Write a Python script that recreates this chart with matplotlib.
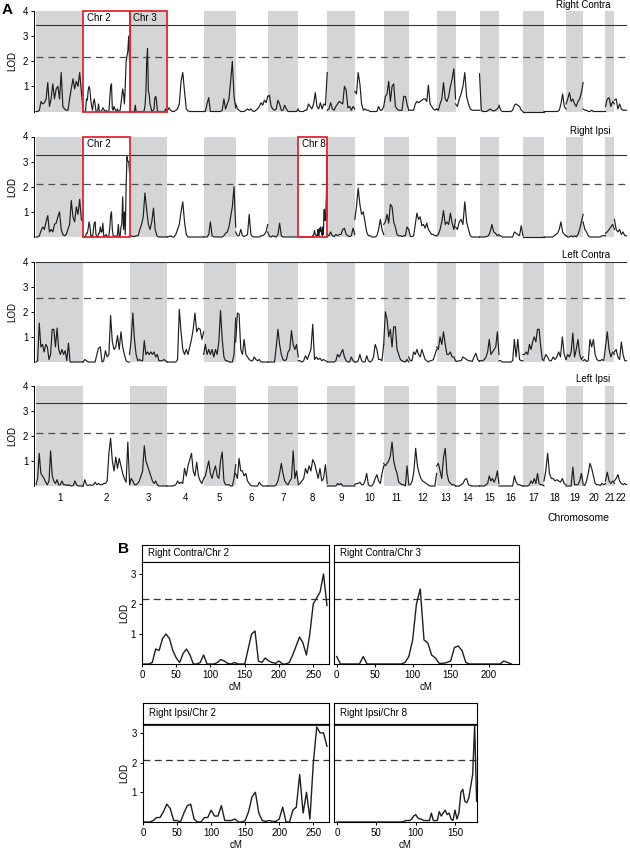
import numpy as np
import matplotlib.pyplot as plt
from matplotlib.patches import Rectangle

plt.rcParams['font.family'] = ['Liberation Sans', 'DejaVu Sans']

W, H = 630, 852
GRAY = '#d4d5d7'
RED = '#e3262d'
TRACE = '#1e1e1e'

chrom_names = [str(i) for i in range(1, 23)]
# band widths (cM) of the 22 chromosomes in the genome scan
chrom_len = [273, 270, 218, 212, 186, 186, 177, 168, 160, 168, 145,
             162, 110, 139, 113, 139, 122, 128, 99, 130, 52, 70]

# detailed scans used in panel B (LOD every 5 cM, chr 8 every 2.5 cM)
rc_chr2 = [0, 0, 0, 0.05, 0.5, 0.45, 0.85, 1.0, 0.85, 0.45,
           0.2, 0.05, 0.35, 0.5, 0.3, 0, 0, 0.05, 0.3, 0,
           0, 0, 0.05, 0.15, 0.1, 0.02, 0, 0.05, 0, 0,
           0, 0.5, 1.0, 1.1, 0.1, 0.05, 0.2, 0.1, 0.05, 0.02,
           0.1, 0, 0, 0.05, 0.3, 0.6, 0.9, 0.7, 0.3, 1.0,
           2.0, 2.2, 2.4, 3.0, 1.95]
rc_chr3 = [0.25, 0, 0, 0, 0, 0, 0, 0.25, 0, 0,
           0, 0, 0, 0, 0, 0, 0, 0, 0.05, 0.25,
           0.8, 2.0, 2.5, 0.8, 0.7, 0.3, 0.2, 0.02, 0.02, 0.05,
           0.1, 0.55, 0.6, 0.45, 0.05, 0, 0, 0, 0, 0,
           0, 0, 0, 0, 0.1, 0.05, 0]
ri_chr2 = [0, 0, 0, 0.05, 0.15, 0.15, 0.35, 0.6, 0.45, 0.05,
           0.05, 0, 0.3, 0.55, 0.6, 0.1, 0, 0, 0.15, 0.15,
           0.4, 0.2, 0.2, 0.55, 0.05, 0.05, 0.05, 0.1, 0, 0,
           0.05, 0.35, 0.85, 1.0, 0.3, 0.05, 0.02, 0.05, 0.02, 0.02,
           0.1, 0.5, 0, 0, 0.4, 0.5, 1.6, 0.3, 1.0, 0.1,
           2.0, 3.2, 3.0, 3.0, 2.55]
ri_chr8 = [0] * 34 + [0.02, 0.05, 0.05, 0.05, 0.1, 0.2, 0.25, 0.15, 0.1, 0.1,
                      0.05, 0.05, 0.05, 0.05, 0.3, 0.05, 0.05, 0.05, 0.35, 0.2,
                      0.3, 0.4, 0.25, 0.3, 0.1, 0.05, 0.4, 0.1, 0.3, 1.0,
                      1.1, 0.7, 0.65, 0.8, 1.2, 1.6, 3.25, 0.7]

right_contra = [
    [0, 0, 0.05, 0.4, 0.3, 0.35, 0.5, 1.15, 0.2, 0.5, 1.1, 0.5, 0.9, 1.0, 0.5, 1.55, 0.2, 0.1, 0.05, 0.05, 0.5, 0.9, 1.3, 0.9, 1.2, 1.0, 1.55, 0.8, 0.1],
    rc_chr2,
    rc_chr3,
    [0, 0.15, 0.05, 0, 0, 0.05, 0.1, 0.3, 1.2, 1.55, 0.8, 0.1, 0.02, 0, 0, 0, 0, 0, 0, 0, 0, 0],
    [0, 0, 0.3, 0.55, 0, 0, 0, 0, 0, 0, 0, 0.05, 0.5, 0.1, 0.3, 0.5, 1.2, 2.0, 0.6, 0.15],
    [0.3, 0.1, 0.05, 0, 0, 0, 0.05, 0.1, 0.05, 0.1, 0.02, 0, 0.05, 0.1, 0.2, 0.35, 0.25, 0.45, 0.35, 0.6],
    [0.6, 0.65, 0.2, 0.1, 0.05, 0.1, 0.45, 0.3, 0.05, 0.05, 0.25, 0.1, 0, 0, 0, 0, 0, 0, 0.1],
    [0.05, 0, 0, 0, 0.05, 0.05, 0.3, 0.2, 0.1, 0.3, 0.75, 0.2, 0.1, 0.35, 0.1, 0.3, 0.25, 1.55],
    [0.05, 0.1, 0.35, 0.1, 0.05, 0.2, 0.3, 0.4, 0.35, 0.3, 1.0, 0.85, 0.15, 0.2, 0.05, 0.2, 0.1],
    [0.8, 0.7, 1.55, 1.1, 0.3, 0.05, 0.1, 0.05, 0.05, 0, 0, 0, 0, 0, 0.2, 0.05, 0.05, 0.2],
    [0.2, 0.6, 0.7, 1.2, 0.4, 1.0, 1.1, 0.2, 0.1, 0.05, 0.05, 0.05, 0.6, 0.6, 0.3, 0.05],
    [0.05, 0.05, 0.05, 0.05, 0.3, 0.4, 0.35, 0.4, 0.45, 0.5, 0.5, 0.4, 1.05, 0.3, 0.2, 0.1, 0.05, 0.1],
    [0.1, 0.05, 0.3, 0.5, 1.15, 0.5, 0.4, 0.6, 1.0, 1.3, 1.7, 0.5],
    [0.3, 0.2, 0.5, 0.7, 1.0, 1.55, 0.6, 0.3, 0.1, 0.05, 0.05, 0.05, 0.05, 0.05],
    [1.5, 0.05, 0, 0, 0, 0.05, 0.1, 0.05, 0.02, 0.05, 0.1, 0.2],
    [0.25, 0.05, 0, 0, 0, 0, 0, 0, 0.05, 0.25, 0.3, 0.25, 0.2, 0.05, 0],
    [0, 0, 0, 0, 0, 0, 0, 0, 0, 0, 0, 0, 0],
    [0, 0, 0, 0, 0, 0, 0, 0, 0, 0.05, 0.3, 0.7, 0.2, 0.1],
    [0.3, 0.5, 0.75, 0.4, 0.5, 0.3, 0.2, 0.4, 0.5, 0.75, 1.15],
    [0.1, 0.05, 0.05, 0, 0, 0.05, 0, 0, 0, 0, 0, 0, 0, 0],
    [0.2, 0.5, 0.55, 0.2, 0.4, 0.3],
    [0.45, 0.5, 0.1, 0.3, 0.1, 0.05, 0.05, 0.05],
]

right_ipsi = [
    [0, 0, 0.05, 0.25, 0.4, 0.3, 0.6, 0.85, 0.2, 0.3, 0.2, 0.5, 0.55, 0.8, 1.0, 0.3, 0.1, 0.05, 0.1, 0.3, 0.5, 1.45, 0.8, 0.6, 1.2, 0.9, 1.5, 0.7, 0.6],
    ri_chr2,
    [0.05, 0.05, 0.02, 0.02, 0.05, 0.05, 0.3, 0.5, 0.8, 1.75, 1.1, 0.5, 0.3, 0.6, 1.15, 0.3, 0.05, 0, 0, 0, 0, 0, 0],
    [0, 0.02, 0.05, 0, 0, 0.1, 0.3, 0.5, 1.0, 1.4, 0.6, 0.1, 0, 0, 0, 0, 0, 0, 0, 0, 0, 0],
    [0, 0, 0, 0.1, 0.6, 0.05, 0, 0, 0, 0, 0, 0, 0.05, 0.15, 0.2, 0.4, 0.8, 1.2, 2.0, 0.4],
    [0.2, 0.05, 0.05, 0.3, 0.05, 0.02, 0.05, 0.1, 0.9, 0.1, 0.02, 0, 0, 0, 0, 0.05, 0.05, 0.1, 0.2, 0.5],
    [0.2, 0.02, 0, 0.05, 0.02, 0, 0.1, 0.55, 0.05, 0, 0, 0, 0, 0, 0, 0, 0, 0, 0],
    ri_chr8,
    [0.1, 0.05, 0.2, 0.05, 0.02, 0.1, 0.05, 0.1, 0.1, 0.3, 0.35, 0.1, 0.05, 0.02, 0.05, 0.35, 0.1],
    [0.7, 1.2, 1.95, 1.3, 0.9, 1.0, 0.6, 0.2, 0.05, 0.05, 0, 0, 0, 0.05, 0.3, 0.7, 0.3, 0.1],
    [0.5, 0.6, 0.9, 0.55, 1.3, 1.2, 0.6, 0.4, 0.1, 0.05, 0.05, 0.02, 0.05, 0.05, 0.4, 0.3],
    [0.3, 0.02, 0.02, 0.05, 0.5, 0.95, 0.7, 0.8, 0.45, 0.5, 0.35, 0.55, 0.3, 0.2, 0.1, 0.1, 0.05, 0.05],
    [0.05, 0.1, 0.3, 0.6, 1.05, 0.5, 0.6, 0.5, 0.95, 0.55, 0.3, 0.7],
    [0.4, 0.3, 0.6, 0.7, 0.5, 1.4, 0.6, 0.3, 0.05, 0, 0, 0, 0, 0],
    [0, 0, 0, 0, 0.02, 0.05, 0.2, 0.5, 0.2, 0.15, 0.05, 0.1],
    [0.05, 0.05, 0, 0, 0, 0, 0, 0, 0, 0.2, 0.15, 0.1, 0.05, 0.45, 0.05],
    [0, 0, 0, 0, 0, 0, 0, 0, 0, 0, 0, 0, 0],
    [0, 0, 0, 0, 0, 0, 0.05, 0.1, 0.15, 0.3, 0.6, 0.2, 0.1, 0.05],
    [0.05, 0, 0, 0.05, 0, 0.05, 0, 0.1, 0.3, 0.6, 0.9],
    [0.6, 0.3, 0.2, 0.05, 0, 0, 0, 0, 0, 0, 0, 0.05, 0.05, 0.05],
    [0.15, 0.2, 0.3, 0.4, 0.5, 0.3],
    [0.7, 0.3, 0.2, 0.3, 0.1, 0.2, 0.05, 0.05],
]

left_contra = [
    [0, 0.05, 1.55, 0.6, 0.7, 0.4, 0.7, 0.6, 0.1, 0.3, 1.3, 1.3, 0.6, 1.35, 0.5, 0.3, 0.5, 0.3, 0.45, 0.05, 0.75, 0, 0, 0, 0, 0, 0, 0, 0, 0],
    [0, 0.1, 0.05, 0, 0, 0, 0, 0, 0.3, 0.55, 0.6, 0, 0.05, 0.45, 0.2, 0.3, 1.85, 0.8, 0.5, 0.6, 1.05, 0.5, 1.2, 0.6, 0.3, 0.05, 0, 0],
    [0.3, 0.9, 1.95, 0.9, 0.3, 0.05, 0.1, 0.05, 0.05, 0.85, 0.3, 0.4, 0.3, 0.4, 0.3, 0.4, 0.2, 0.3, 0.05, 0.05, 0.05, 0.1, 0.05, 0],
    [0, 0, 0, 0, 0, 0, 0.1, 2.1, 1.2, 0.5, 0.3, 0.5, 0.3, 0.6, 0.9, 1.3, 1.95, 1.2, 1.35, 1.3, 0.9, 1.2],
    [0.3, 0.7, 0.3, 0.5, 0.3, 0.5, 0.2, 0.5, 0.3, 0.8, 2.05, 0.9, 0.2, 0.05, 0.05, 0, 0, 0, 0.3, 1.75],
    [0.8, 1.95, 1.9, 0.5, 0.3, 0.9, 0.3, 0.2, 0.1, 0.05, 0.05, 0.2, 0.1, 0.05, 0.1, 0, 0, 0, 0, 0],
    [0, 0, 0, 0, 0, 0.6, 1.3, 0.7, 0.3, 0.1, 0.05, 0.1, 0.4, 0.5, 1.25, 0.7, 0.5, 0.7, 0.2],
    [0.05, 0.05, 0, 0.05, 0.25, 0.1, 0.3, 0.5, 1.5, 0.1, 0.2, 0.1, 0.15, 0.05, 0.1, 0.05, 0.02],
    [0, 0, 0, 0, 0, 0.05, 0.3, 0.2, 0.35, 0.5, 0.2, 0.05, 0, 0, 0.2, 0.05, 0],
    [0, 0, 0.05, 0.3, 0.05, 0, 0, 0.25, 0.05, 0, 0.05, 0.2, 0.7, 0.5, 0.1, 0.1, 0.05, 0.7],
    [0.7, 2.0, 1.7, 1.0, 1.3, 0.6, 1.4, 1.4, 0.5, 0.3, 0.1, 0.05, 0.02, 0, 0.1, 0],
    [0.2, 0.05, 0.05, 0.4, 0.3, 0.5, 0.3, 0.2, 0.5, 0.3, 0.1, 0.05, 0, 0.05, 0.05, 0.1, 0.3, 0.5],
    [0.6, 0.5, 1.0, 0.7, 1.2, 0.7, 0.3, 0.3, 0.4, 0.2, 0.2, 0.05],
    [0.05, 0.02, 0.05, 0.05, 0.2, 0.15, 0.1, 0.05, 0.05, 0.02, 0.2, 0.35, 0.1, 0.02],
    [0.05, 0.05, 0.05, 0.1, 0.2, 0.4, 0.9, 0.3, 0.4, 0.5, 0.6, 1.2, 0.3],
    [0.05, 0.05, 0, 0, 0, 0, 0, 0, 0.05, 0.9, 0.2, 0.9, 0.1, 0.05, 0.05],
    [0.3, 0.3, 0.4, 0.3, 0.7, 0.5, 0.8, 1.0, 0.8, 1.3, 1.3, 0.6, 0.1, 0.05],
    [0.1, 0.3, 0.2, 0.05, 0.05, 0.2, 0.1, 0.2, 0.4, 0.2, 1.0, 0.3, 0.1],
    [0.1, 0.3, 0.2, 0.4, 1.15, 0.2, 0.5, 0.9, 0.3, 0.1, 0.2],
    [0.05, 0.1, 0.02, 0.05, 0.9, 0.6, 0.9, 0.3, 0.1, 0.05, 0.05, 0.1, 0.05, 0.6],
    [0.6, 1.2, 0.5, 0.2, 0.4, 0.3],
    [0.4, 0.5, 0.2, 0.1, 0.8, 0.3, 0.05, 0.05],
]

left_ipsi = [
    [0.05, 0.3, 1.3, 0.5, 0.4, 0.3, 0.15, 0.05, 0.2, 1.4, 0.4, 0.2, 0.1, 0.25, 0.05, 0.05, 0.2, 0.05, 0.05, 0.02, 0.05, 0.02, 0, 0.02, 0.2, 0.05, 0, 0, 0, 0],
    [0, 0.25, 0.05, 0.02, 0.05, 0.02, 0.05, 0.15, 0.05, 0.1, 0.05, 0.05, 0.1, 0.1, 0.2, 1.3, 1.9, 1.0, 0.6, 1.15, 0.7, 1.1, 0.8, 0.5, 0.3, 0.15, 1.75, 0.1],
    [0.05, 0.3, 0.2, 0.05, 0.05, 0.1, 0.2, 0.4, 0.6, 1.6, 1.0, 0.8, 0.6, 0.4, 0.2, 0.1, 0.2, 0.05, 0, 0, 0, 0, 0, 0],
    [0, 0, 0, 0, 0.02, 0.05, 0.2, 0.1, 0.15, 0.1, 0.7, 0.4, 0.8, 1.05, 1.3, 0.6, 0.4, 0.95, 0.4, 0.2, 0.1, 0.3],
    [0.3, 0.4, 0.7, 1.0, 0.5, 0.3, 0.6, 0.8, 0.4, 0.3, 1.0, 1.35, 0.2, 0.05, 0.05, 0.05, 0, 0, 0.3, 0.85],
    [0.5, 0.3, 1.1, 0.6, 0.6, 0.4, 0.5, 0.2, 0.1, 0.02, 0, 0, 0, 0, 0.15, 0.05, 0, 0, 0, 0],
    [0, 0, 0, 0, 0, 0.05, 0.2, 0.5, 0.9, 0.5, 0.2, 0.1, 0.05, 0.2, 0.3, 1.4, 0.3, 0.6, 0.1],
    [0.05, 0.1, 0.2, 0.3, 0.7, 0.5, 0.8, 0.6, 1.05, 0.9, 0.6, 0.3, 0.7, 0.2, 0.3, 0.85, 0.1],
    [0, 0, 0, 0, 0, 0, 0.1, 0.05, 0.1, 0, 0, 0, 0, 0, 0, 0, 0],
    [0.05, 0.1, 0.1, 0.15, 0.05, 0.05, 0.2, 0.5, 0.05, 0, 0, 0.1, 0.3, 0.45, 0.2, 0.1, 0.5, 0.8],
    [0.9, 0.8, 0.9, 1.0, 1.2, 1.75, 1.0, 0.7, 0.5, 0.15, 0.1, 0.05, 0.05, 0, 0.8, 0.1],
    [0.05, 0.05, 0.2, 0.6, 1.5, 0.8, 0.5, 0.3, 0.2, 0.15, 0.1, 0.05, 0, 0, 0, 0, 0.5],
    [0.8, 0.9, 0.6, 0.3, 1.15, 1.5, 0.5, 0.2, 0.1, 0.05, 0.05, 0],
    [0, 0, 0, 0.05, 0.1, 0.25, 0.3, 0.05, 0.02, 0, 0, 0, 0, 0],
    [0, 0, 0, 0, 0.05, 0.1, 0.4, 0.2, 0.3, 0.15, 0.3, 0.6, 0.1],
    [0, 0, 0, 0, 0, 0, 0, 0, 0, 0.4, 0.15, 0.05, 0.05, 0.02, 0],
    [0, 0, 0, 0, 0.05, 0.2, 0.1, 0.3, 0.1, 0.5, 0.1, 0.05, 0.05, 0],
    [0.2, 0.6, 1.3, 0.5, 0.3, 0.3, 0.2, 0.25, 0.2, 0.15, 0.3, 0.1, 0.05],
    [0, 0, 0, 0, 0.75, 0.05, 0.05, 0.05, 0.2, 0.5, 0.1],
    [0.05, 0.02, 0.2, 0.5, 0.9, 0.7, 0.4, 0.1, 0.05, 0.05, 0.02, 0.1, 0.05, 0.1],
    [0.2, 0.55, 0.2, 0.1, 0.2, 0.1],
    [0.2, 0.3, 0.45, 0.2, 0.1, 0.05, 0.1, 0.05],
]

trait_names = ['Right Contra', 'Right Ipsi', 'Left Contra', 'Left Ipsi']
scans = [right_contra, right_ipsi, left_contra, left_ipsi]
thr_solid = [3.43, 3.28, 3.99, 3.3]
thr_dashed = [2.17, 2.1, 2.56, 2.09]
boxed = [[2, 3], [2, 8], [], []]

fig = plt.figure(figsize=(W / 100, H / 100), dpi=100)


def px_axes(x0, y0, x1, y1):
    return fig.add_axes([x0 / W, 1 - y1 / H, (x1 - x0) / W, (y1 - y0) / H])


ends = np.cumsum(chrom_len)
starts = ends - np.array(chrom_len)
total = ends[-1]
unit = total / 590.5  # genome units per pixel

row_top = [11, 136.5, 261.5, 385.5]
row_h = 100.5

# ---------------- panel A ----------------
for r in range(4):
    ax = px_axes(36, row_top[r], 626.5, row_top[r] + row_h)
    ax.set_xlim(0, total)
    ax.set_ylim(0, 4)
    for i in range(22):
        if i % 2 == 0:
            ax.axvspan(starts[i], ends[i], color=GRAY, lw=0, zorder=0)
        vals = scans[r][i]
        ax.plot(np.linspace(starts[i], ends[i], len(vals)), vals, color=TRACE,
                lw=0.85, zorder=3, clip_on=False)
    ax.axhline(thr_solid[r], color='#333333', lw=0.8, zorder=2)
    ax.axhline(thr_dashed[r], color='#4d4d4d', lw=0.9, ls=(0, (5.5, 4)), zorder=2)

    for c in boxed[r]:
        i = c - 1
        ax.add_patch(Rectangle((starts[i], 0), chrom_len[i], 4, fill=False,
                               ec=RED, lw=1.3, zorder=4, clip_on=False))
        ax.text(starts[i] + 3.5 * unit, 3.72, f'Chr {c}', fontsize=7,
                ha='left', va='center', zorder=5)

    for s in ['top', 'right', 'bottom']:
        ax.spines[s].set_visible(False)
    ax.spines['left'].set_position(('outward', 1.5))
    ax.spines['left'].set_bounds(0, 4)
    ax.spines['left'].set_linewidth(0.7)
    ax.set_yticks([1, 2, 3, 4])
    ax.tick_params(axis='y', length=2.5, width=0.7, labelsize=7, pad=1.5)
    if r == 3:
        ax.set_xticks((starts + ends) / 2, chrom_names)
        ax.tick_params(axis='x', length=0, labelsize=7, pad=5)
    else:
        ax.set_xticks([])
    fig.text(12 / W, 1 - (row_top[r] + row_h / 2) / H, 'LOD', rotation=90,
             fontsize=7, ha='center', va='center')
    fig.text(610 / W, 1 - (row_top[r] - 6) / H, trait_names[r], fontsize=7,
             ha='right', va='center')

fig.text(578 / W, 1 - 518 / H, 'Chromosome', fontsize=7.5, ha='center', va='center')
fig.text(2 / W, 1 - 10 / H, 'A', fontsize=11, fontweight='bold', ha='left', va='center')
fig.text(118 / W, 1 - 549 / H, 'B', fontsize=11, fontweight='bold', ha='left', va='center')


# ---------------- panel B ----------------
def b_panel(x0, x1, y_strip, y_top, y_bot, title, vals, step, xlim, ytop,
            solid, dashed, xticks, left):
    strip = px_axes(x0, y_strip, x1, y_top)
    strip.set_xticks([])
    strip.set_yticks([])
    for s in strip.spines.values():
        s.set_linewidth(0.8)
    strip.text(6 / (x1 - x0), 0.5, title, transform=strip.transAxes,
               fontsize=7, ha='left', va='center')

    ax = px_axes(x0, y_top, x1, y_bot)
    cm = np.arange(len(vals)) * step
    ax.plot(cm, vals, color=TRACE, lw=1.0, zorder=3)
    ax.axhline(dashed, color='#333333', lw=0.9, ls=(0, (5.5, 3.5)), zorder=2)
    ax.axhline(solid, color='#333333', lw=0.8, zorder=2)
    ax.set_xlim(*xlim)
    ax.set_ylim(0, ytop)
    for s in ax.spines.values():
        s.set_linewidth(0.8)
    ax.set_xticks(xticks)
    ax.tick_params(axis='x', length=2.5, width=0.7, labelsize=7, pad=2)
    ax.set_xlabel('cM', fontsize=7, labelpad=1)
    if left:
        ax.set_yticks([1, 2, 3])
        ax.tick_params(axis='y', length=2.5, width=0.7, labelsize=7, pad=2)
        fig.text(124 / W, 1 - (y_top + y_bot) / 2 / H, 'LOD', rotation=90,
                 fontsize=7, ha='center', va='center')
    else:
        ax.set_yticks([])


b_panel(142, 329, 545, 562, 664, 'Right Contra/Chr 2', rc_chr2, 5, (0, 273), 3.4,
        thr_solid[0], thr_dashed[0], [0, 50, 100, 150, 200, 250], True)
b_panel(334, 519, 545, 562, 664, 'Right Contra/Chr 3', rc_chr3, 5, (-3.5, 240), 3.4,
        thr_solid[0], thr_dashed[0], [0, 50, 100, 150, 200], False)
b_panel(143, 329, 703, 724, 822, 'Right Ipsi/Chr 2', ri_chr2, 5, (0, 273), 3.3,
        thr_solid[1], thr_dashed[1], [0, 50, 100, 150, 200, 250], True)
b_panel(334, 477, 703, 724, 822, 'Right Ipsi/Chr 8', ri_chr8, 2.5, (-3.8, 178), 3.3,
        thr_solid[1], thr_dashed[1], [0, 50, 100, 150], False)

fig.savefig('out.png', dpi=100)
